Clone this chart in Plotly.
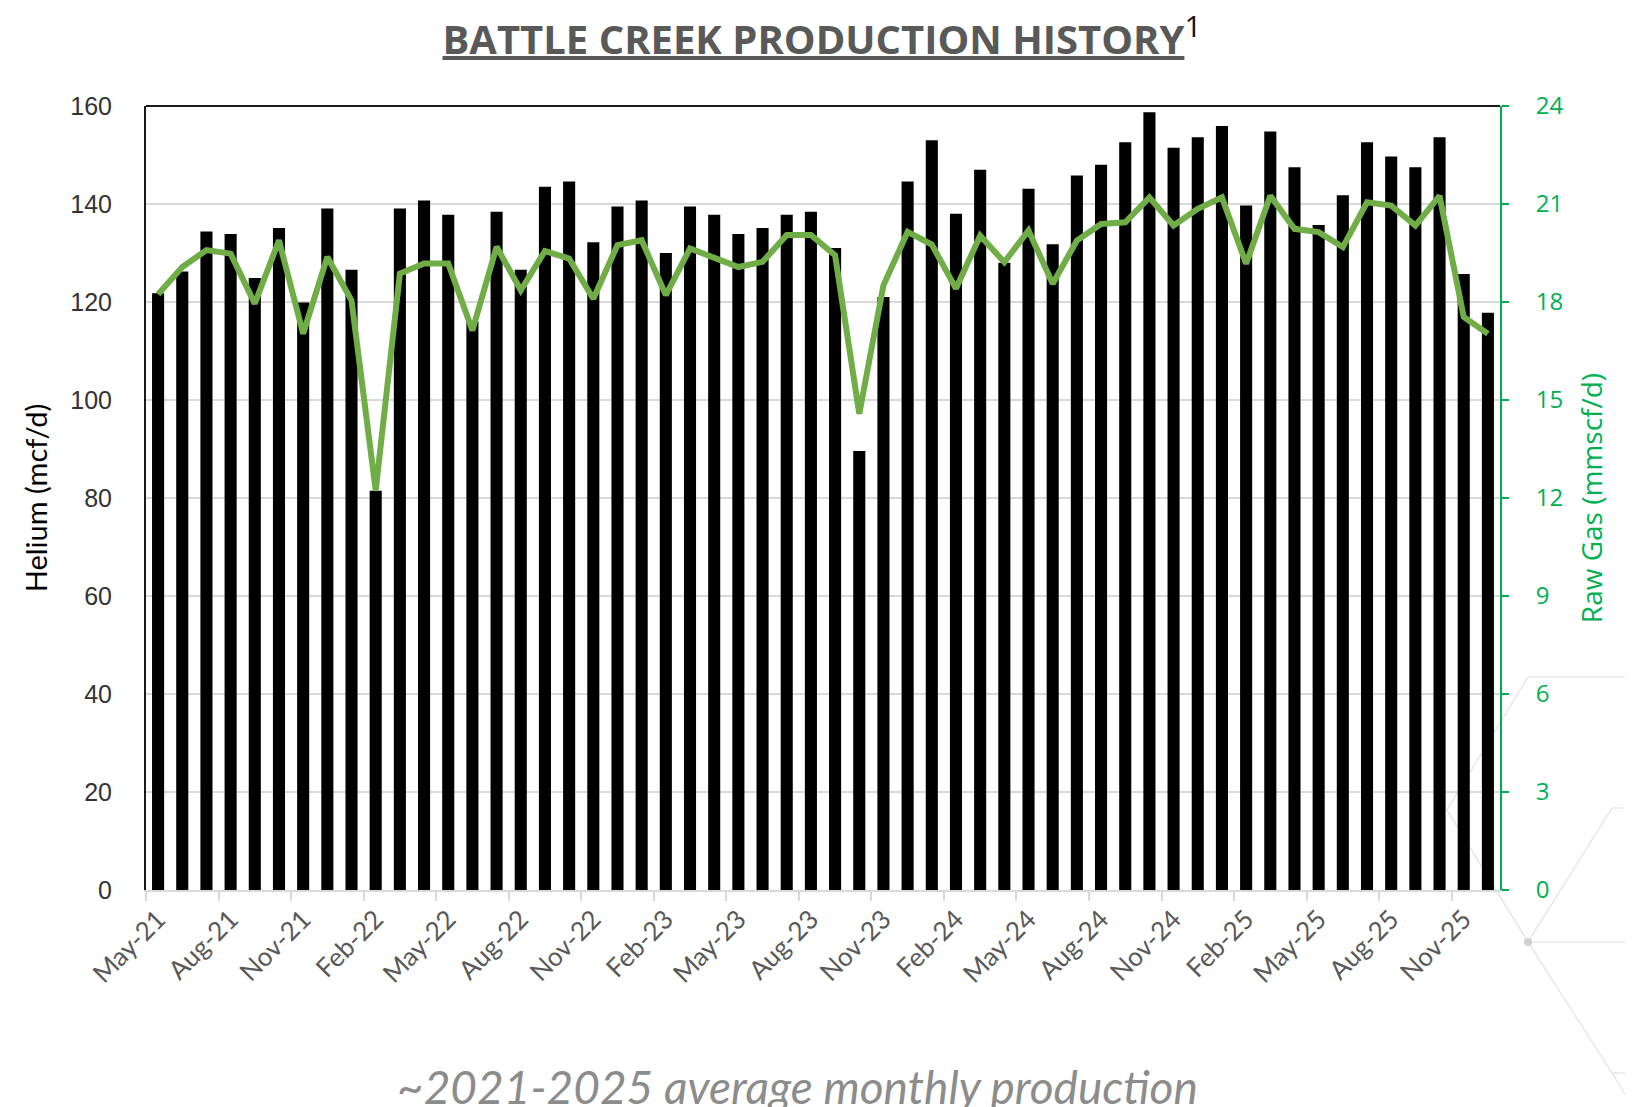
import pandas as pd
import plotly.graph_objects as go

# Battle Creek monthly production, May-21 .. Dec-25
meses = pd.date_range("2021-05-01", periods=56, freq="MS")
etiquetas = [m.strftime("%b-%y") for m in meses]

helio = [121.8, 126.2, 134.4, 133.9, 124.9, 135.1, 119.9, 139.1, 126.6, 81.5,
         139.1, 140.7, 137.8, 116.0, 138.4, 126.6, 143.5, 144.6, 132.2, 139.5,
         140.7, 130.0, 139.5, 137.8, 133.9, 135.1, 137.8, 138.4, 131.0, 89.6,
         121.0, 144.6, 153.0, 138.0, 147.0, 128.0, 143.1, 131.8, 145.8, 148.0,
         152.6, 158.7, 151.5, 153.6, 155.9, 139.7, 154.8, 147.5, 135.7, 141.8,
         152.6, 149.7, 147.5, 153.6, 125.7, 117.8]  # mcf/d

gas_bruto = [18.24, 19.07, 19.59, 19.48, 17.95, 19.89, 17.03, 19.38, 18.05, 12.23,
             18.87, 19.18, 19.18, 17.13, 19.69, 18.36, 19.56, 19.33, 18.10, 19.74,
             19.89, 18.21, 19.64, 19.33, 19.07, 19.23, 20.05, 20.05, 19.43, 14.58,
             18.51, 20.15, 19.76, 18.41, 20.03, 19.22, 20.19, 18.56, 19.88, 20.39,
             20.44, 21.20, 20.34, 20.85, 21.20, 19.17, 21.25, 20.24, 20.14, 19.68,
             21.05, 20.95, 20.34, 21.25, 17.54, 17.03]  # mmscf/d

eje_izq = [0, 20, 40, 60, 80, 100, 120, 140, 160]
eje_der = [0, 3, 6, 9, 12, 15, 18, 21, 24]

VERDE = "#00B050"
LINEA = "#70AD47"
GRIS = "#595959"
REJILLA = "#D9D9D9"
HEX = "#E8E8E8"

W, H = 1633, 1107
OFF = 8  # body margin of the html page
# plot area edges, in page pixels
L, R, T, B = 146, 1500, 106, 890

x = list(range(len(helio)))

fig = go.Figure()
fig.add_trace(go.Bar(x=x, y=helio, marker_color="black", marker_line_width=0,
                     name="Helium"))
fig.add_trace(go.Scatter(x=x, y=gas_bruto, yaxis="y2", mode="lines", name="Raw Gas",
                         line=dict(color=LINEA, width=6)))


def px2paper(px, py):
    return (px - L) / (R - L), (B - py) / (B - T)


# faint hexagon decoration, bottom-right corner
segmentos = [((1528, 677), (1640, 677)), ((1528, 677), (1447, 810)),
             ((1447, 810), (1528, 942)), ((1528, 942), (1640, 942)),
             ((1528, 942), (1612, 808)), ((1612, 808), (1640, 808)),
             ((1528, 942), (1612, 1073)), ((1612, 1073), (1640, 1073)),
             ((1612, 1073), (1635, 1110))]
formas = []
for (a, b) in segmentos:
    x0, y0 = px2paper(*a)
    x1, y1 = px2paper(*b)
    formas.append(dict(type="line", xref="paper", yref="paper", x0=x0, y0=y0,
                       x1=x1, y1=y1, line=dict(color=HEX, width=1.5), layer="below"))
cx, cy = px2paper(1528, 942)
formas.append(dict(type="circle", xref="paper", yref="paper",
                   x0=cx - 4 / (R - L), x1=cx + 4 / (R - L),
                   y0=cy - 4 / (B - T), y1=cy + 4 / (B - T),
                   fillcolor="#D0D0D0", line=dict(width=0), layer="below"))
# top border of the plot area
formas.append(dict(type="line", xref="paper", yref="paper", x0=0, x1=1, y0=1, y1=1,
                   line=dict(color="#1a1a1a", width=2)))

fig.update_layout(
    width=W, height=H,
    margin=dict(l=L - OFF, r=W - R + OFF, t=T - OFF, b=H - B + OFF),
    paper_bgcolor="white", plot_bgcolor="rgba(0,0,0,0)",
    showlegend=False, bargap=0.5,
    title=dict(
        text="<u><b>BATTLE CREEK PRODUCTION HISTORY</b></u>"
             "<sup><span style='color:#111111;font-size:30px;font-weight:normal'>1</span></sup>",
        x=(822 - OFF) / W, xref="container", xanchor="center",
        y=1 - (40 - OFF) / H, yref="container", yanchor="middle",
        font=dict(family="Open Sans", size=40, color=GRIS),
    ),
    xaxis=dict(
        range=[-0.5, 55.5], tickmode="array", tickvals=x[::3], ticktext=etiquetas[::3],
        tickangle=-45, ticks="", showgrid=False, zeroline=False,
        showline=True, linecolor=REJILLA, linewidth=1.5,
        tickfont=dict(family="Lato", size=26, color=GRIS),
        ticklabelstandoff=2,
        minor=dict(tickmode="linear", tick0=-0.5, dtick=3, ticks="outside",
                   ticklen=9, tickwidth=1.5, tickcolor=REJILLA, showgrid=False),
    ),
    yaxis=dict(
        range=[0, 160], tickvals=eje_izq, showgrid=True, gridcolor=REJILLA, gridwidth=1.5,
        zeroline=False, showline=True, linecolor="#1a1a1a", linewidth=2,
        ticks="", ticklabelstandoff=27,
        tickfont=dict(family="Liberation Sans", size=25, color="#333333"),
        title=dict(text="Helium (mcf/d)", standoff=14,
                   font=dict(family="Lato", size=29, color="black")),
    ),
    yaxis2=dict(
        range=[0, 24], tickvals=eje_der, overlaying="y", side="right",
        showgrid=False, zeroline=False, showline=True, linecolor=VERDE, linewidth=2,
        ticks="outside", ticklen=7, tickwidth=2, tickcolor=VERDE, ticklabelstandoff=22,
        tickfont=dict(family="Open Sans", size=24, color=VERDE),
        title=dict(text="Raw Gas (mmscf/d)", standoff=20,
                   font=dict(family="Open Sans", size=28, color=VERDE)),
    ),
    shapes=formas,
    annotations=[dict(
        text="<i>~2021-2025 average monthly production</i>",
        xref="paper", yref="paper", x=(797 - L) / (R - L), y=(B - 1086) / (B - T),
        xanchor="center", yanchor="middle", showarrow=False,
        font=dict(family="Lato", size=46, color="#8C8C8C"),
    )],
)

fig.write_html("out.html")
